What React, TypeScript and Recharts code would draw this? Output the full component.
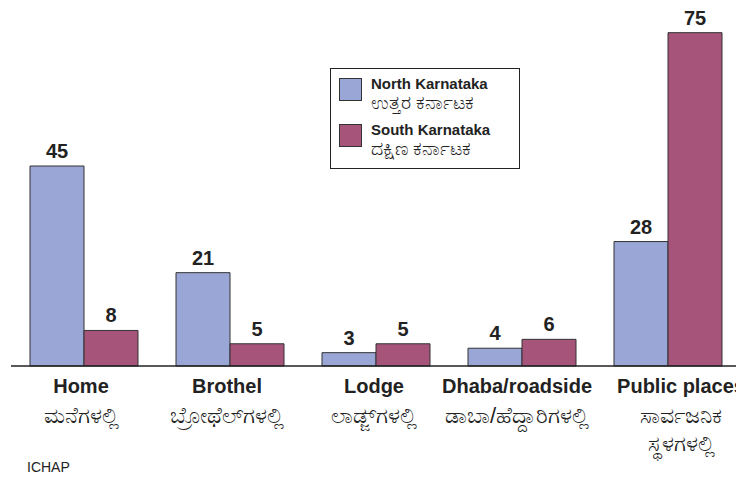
import { BarChart, Bar, XAxis, YAxis, LabelList } from 'recharts';

const categories = ['Home', 'Brothel', 'Lodge', 'Dhaba/roadside', 'Public places'];
const kannadaLabels = [
  ['ಮನೆಗಳಲ್ಲಿ'],
  ['ಬ್ರೋಥೆಲ್‌ಗಳಲ್ಲಿ'],
  ['ಲಾಡ್ಜ್‌ಗಳಲ್ಲಿ'],
  ['ಡಾಬಾ/ಹೆದ್ದಾರಿಗಳಲ್ಲಿ'],
  ['ಸಾರ್ವಜನಿಕ', 'ಸ್ಥಳಗಳಲ್ಲಿ'],
];
const northValues = [45, 21, 3, 4, 28];
const southValues = [8, 5, 5, 6, 75];

const seriesNames = ['North Karnataka', 'South Karnataka'];
const seriesKannada = ['ಉತ್ತರ ಕರ್ನಾಟಕ', 'ದಕ್ಷಿಣ ಕರ್ನಾಟಕ'];

const BLUE = '#9aa7d6';
const MAROON = '#a6547a';
const FONT = '"Liberation Sans", Arial, "Noto Sans", sans-serif';
// small horizontal nudges of the category labels, as in the original layout
const TICK_SHIFT = [-3, -3, -2, -5, 13];

const data = categories.map((c, i) => ({
  name: c,
  north: northValues[i],
  south: southValues[i],
}));

function CategoryTick(props: any) {
  const { x, y, index } = props;
  const lines = kannadaLabels[index] || [];
  const cx = x + (TICK_SHIFT[index] || 0);
  return (
    <g>
      <text x={cx} y={y + 20} textAnchor="middle" dominantBaseline="central"
        fontSize={20} fontWeight="bold" fill="#222" fontFamily={FONT}>
        {categories[index]}
      </text>
      {lines.map((l, k) => (
        <text key={k} x={cx} y={y + 49 + k * 28} textAnchor="middle" dominantBaseline="central"
          fontSize={22} fill="#222" fontFamily={FONT}>
          {l}
        </text>
      ))}
    </g>
  );
}

function LegendBox() {
  const colors = [BLUE, MAROON];
  return (
    <div style={{
      position: 'absolute', left: 330, top: 68,
      width: 188, height: 99, border: '1px solid #222', background: '#fff',
      fontFamily: FONT, color: '#222',
    }}>
      {seriesNames.map((n, i) => (
        <div key={n} style={{ position: 'absolute', left: 8, top: 9 + i * 46 }}>
          <div style={{
            position: 'absolute', left: 0, top: 0, width: 21, height: 21,
            background: colors[i], border: '1px solid #333',
          }} />
          <div style={{ position: 'absolute', left: 32, top: -3, fontSize: 15, fontWeight: 'bold', whiteSpace: 'nowrap' }}>{n}</div>
          <div style={{ position: 'absolute', left: 32, top: 14, fontSize: 19, lineHeight: '22px', whiteSpace: 'nowrap' }}>{seriesKannada[i]}</div>
        </div>
      ))}
    </div>
  );
}

export default function App() {
  return (
    <div style={{ position: 'fixed', left: 0, top: 0, width: 736, height: 478, overflow: 'hidden', background: '#fff' }}>
      <BarChart
        width={760}
        height={478}
        data={data}
        margin={{ top: 6, right: 19, bottom: 12, left: 11 }}
        barCategoryGap={19}
        barGap={0}
      >
        <XAxis
          dataKey="name"
          axisLine={{ stroke: '#222', strokeWidth: 1.5 }}
          tickLine={false}
          tickSize={0}
          tickMargin={0}
          height={100}
          interval={0}
          tick={<CategoryTick />}
        />
        <YAxis hide domain={[0, 81]} />
        <Bar dataKey="north" name={seriesNames[0]} fill={BLUE} stroke="#333" strokeWidth={1} isAnimationActive={false}>
          <LabelList dataKey="north" position="top" offset={8} fontSize={20} fontWeight="bold" fill="#222" fontFamily={FONT} />
        </Bar>
        <Bar dataKey="south" name={seriesNames[1]} fill={MAROON} stroke="#333" strokeWidth={1} isAnimationActive={false}>
          <LabelList dataKey="south" position="top" offset={8} fontSize={20} fontWeight="bold" fill="#222" fontFamily={FONT} />
        </Bar>
      </BarChart>
      <LegendBox />
      <div style={{ position: 'absolute', left: 27, top: 459, fontSize: 14, fontFamily: FONT, color: '#222' }}>ICHAP</div>
    </div>
  );
}
